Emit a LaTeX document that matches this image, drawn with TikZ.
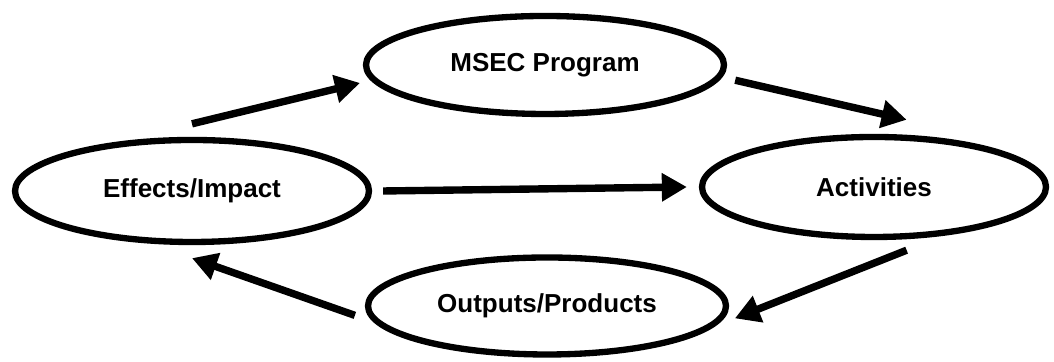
\documentclass[tikz,border=0pt]{standalone}
\usepackage{fontspec}
\setmainfont{Liberation Sans}
\usetikzlibrary{shapes.geometric,arrows.meta}
\begin{document}
\begin{tikzpicture}[
    stage/.style={draw, ellipse, line width=1.8pt, inner sep=0pt,
      font=\fontsize{7.4pt}{9pt}\selectfont\bfseries},
    flow/.style={-{Triangle[length=0.25cm,width=0.27cm]}, line width=2.1pt}
  ]
    \useasboundingbox (0,0) rectangle (10.54,3.62);
    \node [stage, minimum width=3.58cm, minimum height=0.98cm] (msec) at (5.45,2.97) {MSEC Program};
    \node [stage, minimum width=3.54cm, minimum height=1.02cm] (eff) at (1.92,1.71) {Effects/Impact};
    \node [stage, minimum width=3.44cm, minimum height=1.00cm] (act) at (8.74,1.75) {Activities};
    \node [stage, minimum width=3.58cm, minimum height=0.97cm] (out) at (5.47,0.56) {Outputs/Products};
    \draw [flow] ([yshift=0.13cm]eff.north) -- ([xshift=-0.14cm]msec.186);
    \draw [flow] ([xshift=0.16cm]msec.355) -- ([yshift=0.15cm]act.58);
    \draw [flow] ([xshift=0.11cm]eff.east) -- ([xshift=-0.12cm]act.west);
    \draw [flow] ([yshift=-0.11cm]act.302) -- ([xshift=0.11cm]out.356);
    \draw [flow] ([xshift=-0.13cm]out.183) -- ([yshift=-0.13cm]eff.south);
  \end{tikzpicture}
\end{document}
